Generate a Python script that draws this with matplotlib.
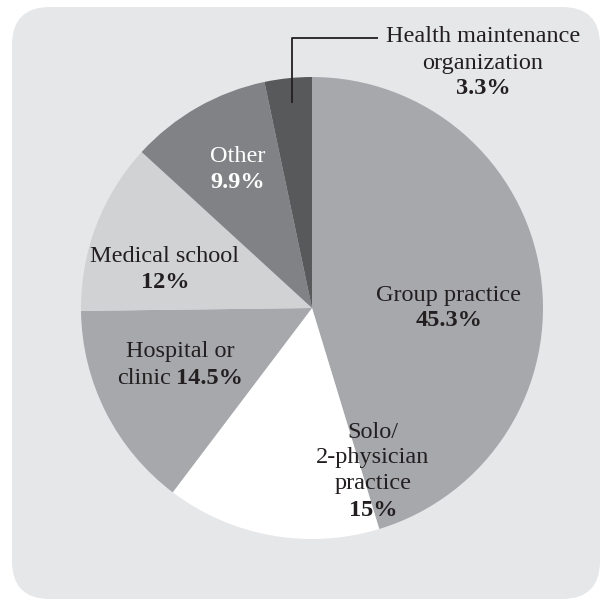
import matplotlib.pyplot as plt
from matplotlib.patches import FancyBboxPatch

# data
categories = ['Group practice', 'Solo/2-physician practice', 'Hospital or clinic',
              'Medical school', 'Other', 'Health maintenance organization']
shares = [45.3, 15, 14.5, 12, 9.9, 3.3]
pct_labels = ['45.3%', '15%', '14.5%', '12%', '9.9%', '3.3%']
colors = ['#a7a8ab', '#ffffff', '#a7a8ab', '#d1d2d4', '#818285', '#58595b']

W, H = 602, 601
fig = plt.figure(figsize=(W / 100, H / 100), dpi=100)
ax = fig.add_axes([0, 0, 1, 1])

# rounded grey panel
panel = FancyBboxPatch((12, 2), 588, 592, boxstyle='round,pad=0,rounding_size=38',
                       fc='#e6e7e9', ec='none', zorder=0)
ax.add_patch(panel)

cx, cy, r = 312, H - 308, 231
ax.pie(shares, colors=colors, startangle=90, counterclock=False,
       center=(cx, cy), radius=r, frame=True,
       wedgeprops=dict(linewidth=0, edgecolor='none'))
ax.set_xlim(0, W)
ax.set_ylim(0, H)
ax.set_aspect('auto')
ax.axis('off')

FONT = 'Liberation Serif'
FS = 17.5
TXT = '#231f20'


def label(x, y, lines, gap=26, color=TXT):
    # lines: list of (text, bold)
    for i, (s, b) in enumerate(lines):
        ax.text(x, H - (y + i * gap), s, ha='center', va='center',
                fontsize=FS, family=FONT, color=color,
                fontweight='bold' if b else 'normal')


label(449, 295, [(categories[0], False), (pct_labels[0], True)])
label(373, 432, [('Solo/', False), ('2-physician', False), ('practice', False),
                 (pct_labels[1], True)])
label(180, 352, [('Hospital or', False)])
ax.text(171, H - 378, 'clinic', ha='right', va='center', fontsize=FS,
        family=FONT, color=TXT)
ax.text(176, H - 378, pct_labels[2], ha='left', va='center', fontsize=FS,
        family=FONT, color=TXT, fontweight='bold')
label(165, 257, [(categories[3], False), (pct_labels[3], True)])
label(238, 157, [(categories[4], False), (pct_labels[4], True)], color='white')
label(483, 37, [('Health maintenance', False), ('organization', False),
                (pct_labels[5], True)])

# leader line for HMO
ax.plot([292, 292, 378], [H - 103, H - 38, H - 38], color='#231f20', lw=1.3,
        solid_capstyle='butt')

fig.savefig('out.png', dpi=100)
